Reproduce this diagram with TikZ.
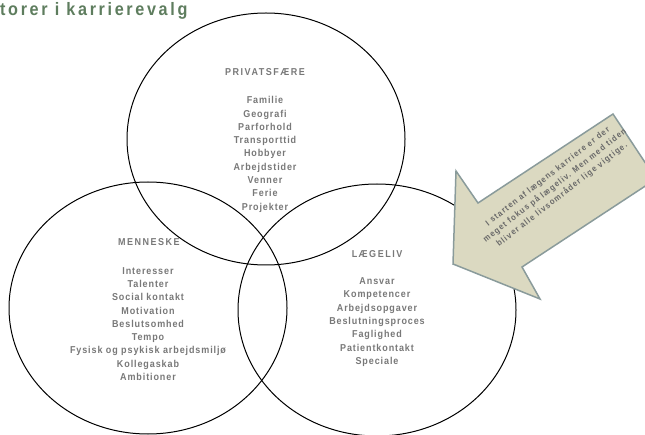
\documentclass[tikz,border=0pt]{standalone}
\usepackage{fontspec}
\setmainfont{Liberation Sans}
\newfontfamily\titelfont{Liberation Sans}[FakeStretch=0.9,LetterSpace=14.7]
\newfontfamily\overfont{Liberation Sans}[FakeStretch=0.9,LetterSpace=15]
\newfontfamily\vennfont{Liberation Sans}[FakeStretch=0.9,LetterSpace=9]
\newfontfamily\pilfont{Liberation Sans}[FakeStretch=0.9,LetterSpace=14]
\usetikzlibrary{shapes.geometric}
\definecolor{titelgroen}{RGB}{94,125,94}
\definecolor{tekstgraa}{RGB}{120,120,120}
\definecolor{pilgraa}{RGB}{105,105,105}
\definecolor{pilfyld}{RGB}{219,217,193}
\definecolor{pilkant}{RGB}{138,155,155}
\tikzset{
	felt/.style={ellipse,draw,line width=1pt,minimum width=278pt,minimum height=252pt,inner sep=0pt},
	titel/.style={anchor=base west,inner sep=0pt,text=titelgroen,font=\titelfont\bfseries\fontsize{18}{20}\selectfont},
	overskrift/.style={anchor=base,inner sep=0pt,text=tekstgraa,font=\overfont\bfseries\fontsize{10}{12}\selectfont},
	punkter/.style={anchor=north,inner sep=0pt,align=center,text=tekstgraa,font=\vennfont\bfseries\fontsize{10}{13.3}\selectfont},
	pil/.style={fill=pilfyld,draw=pilkant,line width=1.5pt,line join=miter},
	piltekst/.style={rotate=38,inner sep=0pt,align=center,text=pilgraa,font=\pilfont\bfseries\fontsize{8.5}{11.5}\selectfont}
}
\begin{document}
\begin{tikzpicture}[x=1pt,y=-1pt]
	\useasboundingbox (0,0) rectangle (645,435);
	\node [titel] (titel) at (0,16) {torer i karrierevalg};

	\node [felt] (privat) at (266,139) {};
	\node [felt] (menneske) at (148,308) {};
	\node [felt] (laege) at (377,310) {};

	\node [overskrift] (privathoved) at (265,76) {PRIVATSFÆRE};
	\node [punkter] (privatliste) at (265,96.3) {Familie\\Geografi\\Parforhold\\Transporttid\\Hobbyer\\Arbejdstider\\Venner\\Ferie\\Projekter};

	\node [overskrift] (menneskehoved) at (149,246) {MENNESKE};
	\node [punkter] (menneskeliste) at (148,267.1) {Interesser\\Talenter\\Social kontakt\\Motivation\\Beslutsomhed\\Tempo\\Fysisk og psykisk arbejdsmiljø\\Kollegaskab\\Ambitioner};

	\node [overskrift] (laegehoved) at (377,257.7) {LÆGELIV};
	\node [punkter] (laegeliste) at (377,277.5) {Ansvar\\Kompetencer\\Arbejdsopgaver\\Beslutningsproces\\Faglighed\\Patientkontakt\\Speciale};

	\draw [pil] (453,264) -- (456,171) -- (478,203) -- (613,114) -- (656,179) -- (522,267) -- (540,299) -- cycle;
	\node [piltekst] (pilnote) at (555,186) {I starten af lægens karriere er der\\meget fokus på lægeliv. Men med tiden\\bliver alle livsområder lige vigtige.};
\end{tikzpicture}
\end{document}
